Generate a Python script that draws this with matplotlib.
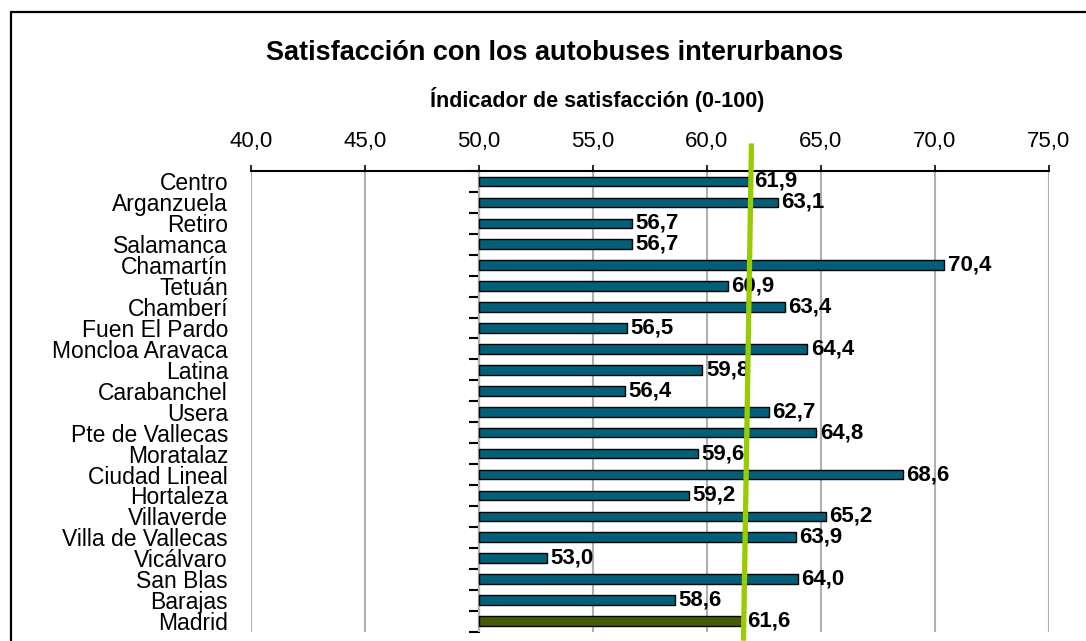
import matplotlib
matplotlib.use("Agg")
import matplotlib.pyplot as plt
from matplotlib.patches import Rectangle
from matplotlib.ticker import FuncFormatter
import matplotlib.transforms as mtransforms

plt.rcParams['font.family'] = ['Liberation Sans', 'DejaVu Sans']

distritos = ["Centro", "Arganzuela", "Retiro", "Salamanca", "Chamartín", "Tetuán",
             "Chamberí", "Fuen El Pardo", "Moncloa Aravaca", "Latina", "Carabanchel",
             "Usera", "Pte de Vallecas", "Moratalaz", "Ciudad Lineal", "Hortaleza",
             "Villaverde", "Villa de Vallecas", "Vicálvaro", "San Blas", "Barajas",
             "Madrid"]
valores = [61.9, 63.1, 56.7, 56.7, 70.4, 60.9, 63.4, 56.5, 64.4, 59.8, 56.4,
           62.7, 64.8, 59.6, 68.6, 59.2, 65.2, 63.9, 53.0, 64.0, 58.6, 61.6]
x_ticks = [40, 45, 50, 55, 60, 65, 70, 75]
base = 50.0
media_madrid = 61.6

titulo = "Satisfacción con los autobuses interurbanos"
subtitulo = "Índicador de satisfacción (0-100)"

W, H = 1086, 641
fig = plt.figure(figsize=(W / 100, H / 100), dpi=100)
ax = fig.add_axes([251 / W, 1 - 631.5 / H, 798 / W, 460.5 / H])

n = len(valores)
pos = list(range(n))
colores = ['#00607a'] * (n - 1) + ['#475c00']
ax.barh(pos, [v - base for v in valores], left=base, height=0.46,
        color=colores, edgecolor='black', linewidth=1.0, zorder=3)

for y, v in zip(pos, valores):
    ax.text(v + 0.15, y, f"{v:.1f}".replace('.', ','), va='center', ha='left',
            fontsize=16, fontweight='bold', zorder=4)

ax.set_xlim(x_ticks[0], x_ticks[-1])
ax.set_ylim(n - 0.5, -0.5)
ax.set_xticks(x_ticks)
ax.xaxis.set_major_formatter(FuncFormatter(lambda v, p: f"{v:.1f}".replace('.', ',')))
ax.xaxis.tick_top()
ax.tick_params(axis='x', direction='out', length=4, width=1.2, pad=9.5, labelsize=16)
ax.grid(axis='x', color='#b0b0b0', linewidth=1.5, zorder=0)

ax.set_yticks(pos)
ax.set_yticklabels(distritos)
ax.tick_params(axis='y', length=0, pad=16.5, labelsize=16.5)

for s in ['left', 'right', 'bottom']:
    ax.spines[s].set_visible(False)
ax.spines['top'].set_linewidth(1.5)

# eje de categorías en x = 50
sec = ax.secondary_yaxis((base - x_ticks[0]) / (x_ticks[-1] - x_ticks[0]))
sec.set_yticks([p + 0.5 for p in [-1] + pos])
sec.set_yticklabels([])
sec.tick_params(axis='y', direction='out', length=7, width=1.5)
sec.spines['left'].set_linewidth(1.5)
sec.spines['right'].set_visible(False)

# línea de referencia (media de Madrid), ligeramente inclinada
trans = mtransforms.blended_transform_factory(ax.transData, ax.transAxes)
ax.plot([media_madrid + 0.35, media_madrid], [1.06, -0.02], transform=trans,
        color='#99cc00', linewidth=3.8, solid_capstyle='butt', clip_on=False, zorder=5)

fig.text(555 / W, 1 - 60 / H, titulo, ha='center', va='baseline',
         fontsize=19.5, fontweight='bold')
fig.text(597 / W, 1 - 100 / H, subtitulo, ha='center', va='center',
         fontsize=15.5, fontweight='bold')

fig.patches.append(Rectangle((11 / W, -0.2), 1.2, 1.2 - 12 / H, transform=fig.transFigure,
                             fill=False, edgecolor='black', linewidth=1.6))

fig.savefig("out.png", dpi=100)
